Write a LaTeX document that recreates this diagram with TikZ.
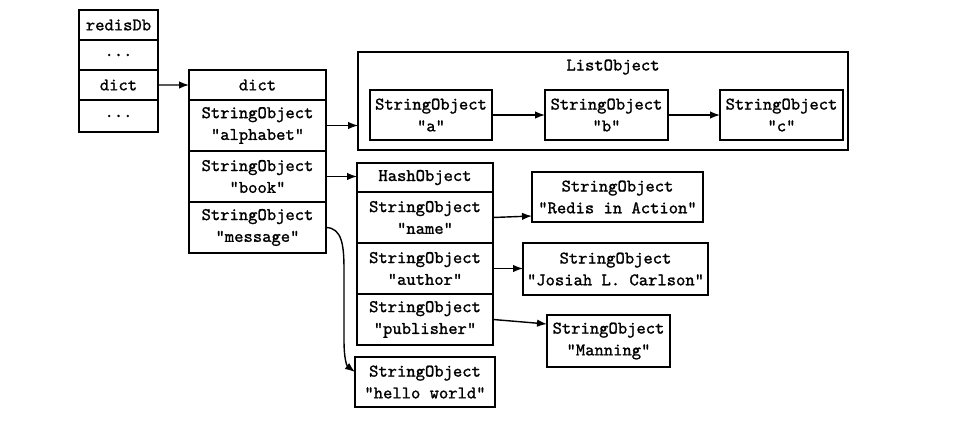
\documentclass[tikz,border=0pt]{standalone}
\usepackage{fontspec}
\setmonofont[FakeBold=1.2]{Latin Modern Mono}
\usetikzlibrary{arrows.meta}
\begin{document}
\begin{tikzpicture}[x=0.02cm,y=-0.02cm,
    cell/.style={draw,line width=1pt,rectangle,inner sep=0pt,outer sep=0pt,align=center,font=\ttfamily\fontsize{10.1pt}{12.4pt}\selectfont},
    link/.style={line width=0.8pt,-{Latex[length=2mm,width=1.5mm]}}]
        %% Frame
        \useasboundingbox (0,0) rectangle (955,420);
        %% redisDb
        \node[cell,minimum width=1.58cm,minimum height=0.6cm] (db) at (118.5,25) {redisDb};
        \node[cell,minimum width=1.58cm,minimum height=0.6cm,anchor=north] (db1) at (db.south) {...};
        \node[cell,minimum width=1.58cm,minimum height=0.6cm,anchor=north] (db2) at (db1.south) {dict};
        \node[cell,minimum width=1.58cm,minimum height=0.64cm,anchor=north] (db3) at (db2.south) {...};
        %% dict
        \node[cell,minimum width=2.74cm,minimum height=0.6cm] (dh) at (257.5,85) {dict};
        \node[cell,minimum width=2.74cm,minimum height=1.02cm,anchor=north] (d1) at (dh.south) {StringObject\\"alphabet"};
        \node[cell,minimum width=2.74cm,minimum height=1.02cm,anchor=north] (d2) at (d1.south) {StringObject\\"book"};
        \node[cell,minimum width=2.74cm,minimum height=1.02cm,anchor=north] (d3) at (d2.south) {StringObject\\"message"};
        %% ListObject
        \node[cell,minimum width=9.8cm,minimum height=1.96cm] (list) at (603,101) {};
        \node[cell,draw=none] (lt) at (613,67) {ListObject};
        \node[cell,minimum width=2.44cm,minimum height=1cm] (la) at (431,115) {StringObject\\"a"};
        \node[cell,minimum width=2.46cm,minimum height=1cm] (lb) at (606.5,115) {StringObject\\"b"};
        \node[cell,minimum width=2.46cm,minimum height=1cm] (lc) at (781.5,115) {StringObject\\"c"};
        %% HashObject
        \node[cell,minimum width=2.72cm,minimum height=0.58cm] (hh) at (425,177.5) {HashObject};
        \node[cell,minimum width=2.72cm,minimum height=1.02cm,anchor=north] (h1) at (hh.south) {StringObject\\"name"};
        \node[cell,minimum width=2.72cm,minimum height=1.02cm,anchor=north] (h2) at (h1.south) {StringObject\\"author"};
        \node[cell,minimum width=2.72cm,minimum height=1.02cm,anchor=north] (h3) at (h2.south) {StringObject\\"publisher"};
        %% Values
        \node[cell,minimum width=3.42cm,minimum height=1cm] (ria) at (617.5,197) {StringObject\\"Redis in Action"};
        \node[cell,minimum width=3.7cm,minimum height=1.04cm] (jo) at (615.5,269) {StringObject\\"Josiah L. Carlson"};
        \node[cell,minimum width=2.46cm,minimum height=1.04cm] (man) at (608.5,341) {StringObject\\"Manning"};
        \node[cell,minimum width=2.8cm,minimum height=1cm] (hello) at (425,382) {StringObject\\"hello world"};
        %% Pointers
        \draw[link] (db2.east) -- (dh.west);
        \draw[link] (d1.east) -- (d1.east -| list.west);
        \draw[link] (la.east) -- (lb.west);
        \draw[link] (lb.east) -- (lc.west);
        \draw[link] (d2.east) -- (d2.east -| hh.west);
        \draw[link] (h1.east) -- ([yshift=-0.38cm]ria.west);
        \draw[link] (h2.east) -- (h2.east -| jo.west);
        \draw[link] (h3.east) -- ([yshift=0.34cm]man.west);
        \draw[link] (d3.east) .. controls (342,228) and (344,245) .. (344,270) -- (344,340)
            .. controls (344,360) and (347,366) .. ([yshift=0.2cm]hello.west);
    \end{tikzpicture}
\end{document}
